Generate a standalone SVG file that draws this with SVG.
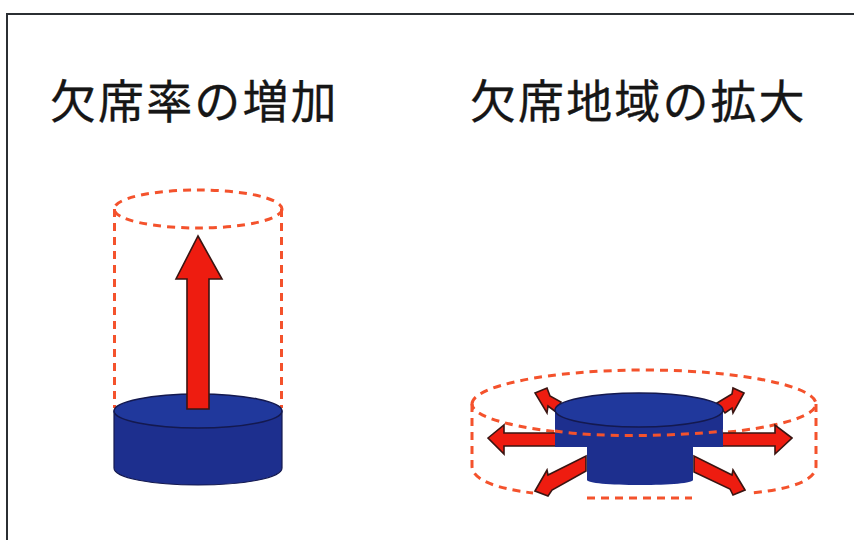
<svg xmlns="http://www.w3.org/2000/svg" width="854" height="540" viewBox="0 0 854 540">
  <style>
    text { font-family: "Noto Sans CJK JP", "Liberation Sans", sans-serif; font-size: 46px; font-weight: 400; letter-spacing: 2.1px; fill: #161616; stroke: #161616; stroke-width: 0.3; }
    .dash { fill: none; stroke: #f4522c; stroke-width: 3; stroke-dasharray: 8 6; }
    .blue { fill: #1d2f8e; stroke: #14194f; stroke-width: 1.2; }
    .blueflat { fill: #1d2f8e; }
    .top { fill: #20389c; stroke: #14194f; stroke-width: 1.5; }
    .red { fill: #ee1c10; stroke: #3a1512; stroke-width: 1.6; stroke-linejoin: miter; }
  </style>
  <rect width="854" height="540" fill="#ffffff"/>
  <path d="M7 540V14H854" fill="none" stroke="#2b2f33" stroke-width="2"/>

  <text id="title-left" x="50" y="118">欠席率の増加</text>
  <text id="title-right" x="470" y="118">欠席地域の拡大</text>

  <g id="rate-increase">
    <ellipse class="dash" cx="198" cy="209" rx="84" ry="19"/>
    <path class="dash" d="M114.500 209V408M281.500 209V408"/>
    <path class="blue" d="M114 411V468C114 478 152 485 198 485S282 478 282 468V411Z"/>
    <ellipse class="top" cx="198" cy="411" rx="84" ry="17"/>
    <polygon class="red" points="198,236 222,279 209,279 209,409 187,409 187,279 176,279"/>
  </g>

  <g id="area-expansion">
    <path class="dash" d="M472 404C472 386 549 370 644 370S816 386 816 404C816 420 749 436 644 436S472 420 472 404Z"/>
    <path class="dash" d="M472 404V466C472 481 500 489 533 493M816 404V466C816 481 790 489 752 493M587 498H692"/>
    <g id="spread-arrows">
      <polygon class="red" points="535,393 547,388 550,396 561,402 556,412 548,406 547,413"/>
      <polygon class="red" points="744,393 733,388 732,394 717,403 725,413 732,408 733,413"/>
      <polygon class="red" points="488,438 504,425 504,433 556,433 556,446 504,446 504,454"/>
      <polygon class="red" points="792,438 775,425 775,433 722,433 722,446 775,446 775,454"/>
      <polygon class="red" points="535,491 547,470 548,475 586,456 586,471 552,490 548,496"/>
      <polygon class="red" points="745,490 733,470 732,475 694,456 694,472 730,489 733,495"/>
    </g>
    <path class="blueflat" d="M555 410V447H587V480C587 483 610 485 640 485S693 483 693 480V447H723V410Z"/>
    <ellipse class="top" cx="639" cy="410" rx="84" ry="17"/>
    <path class="dash" d="M555 431C600 438 680 436 723 431"/>
  </g>
</svg>
